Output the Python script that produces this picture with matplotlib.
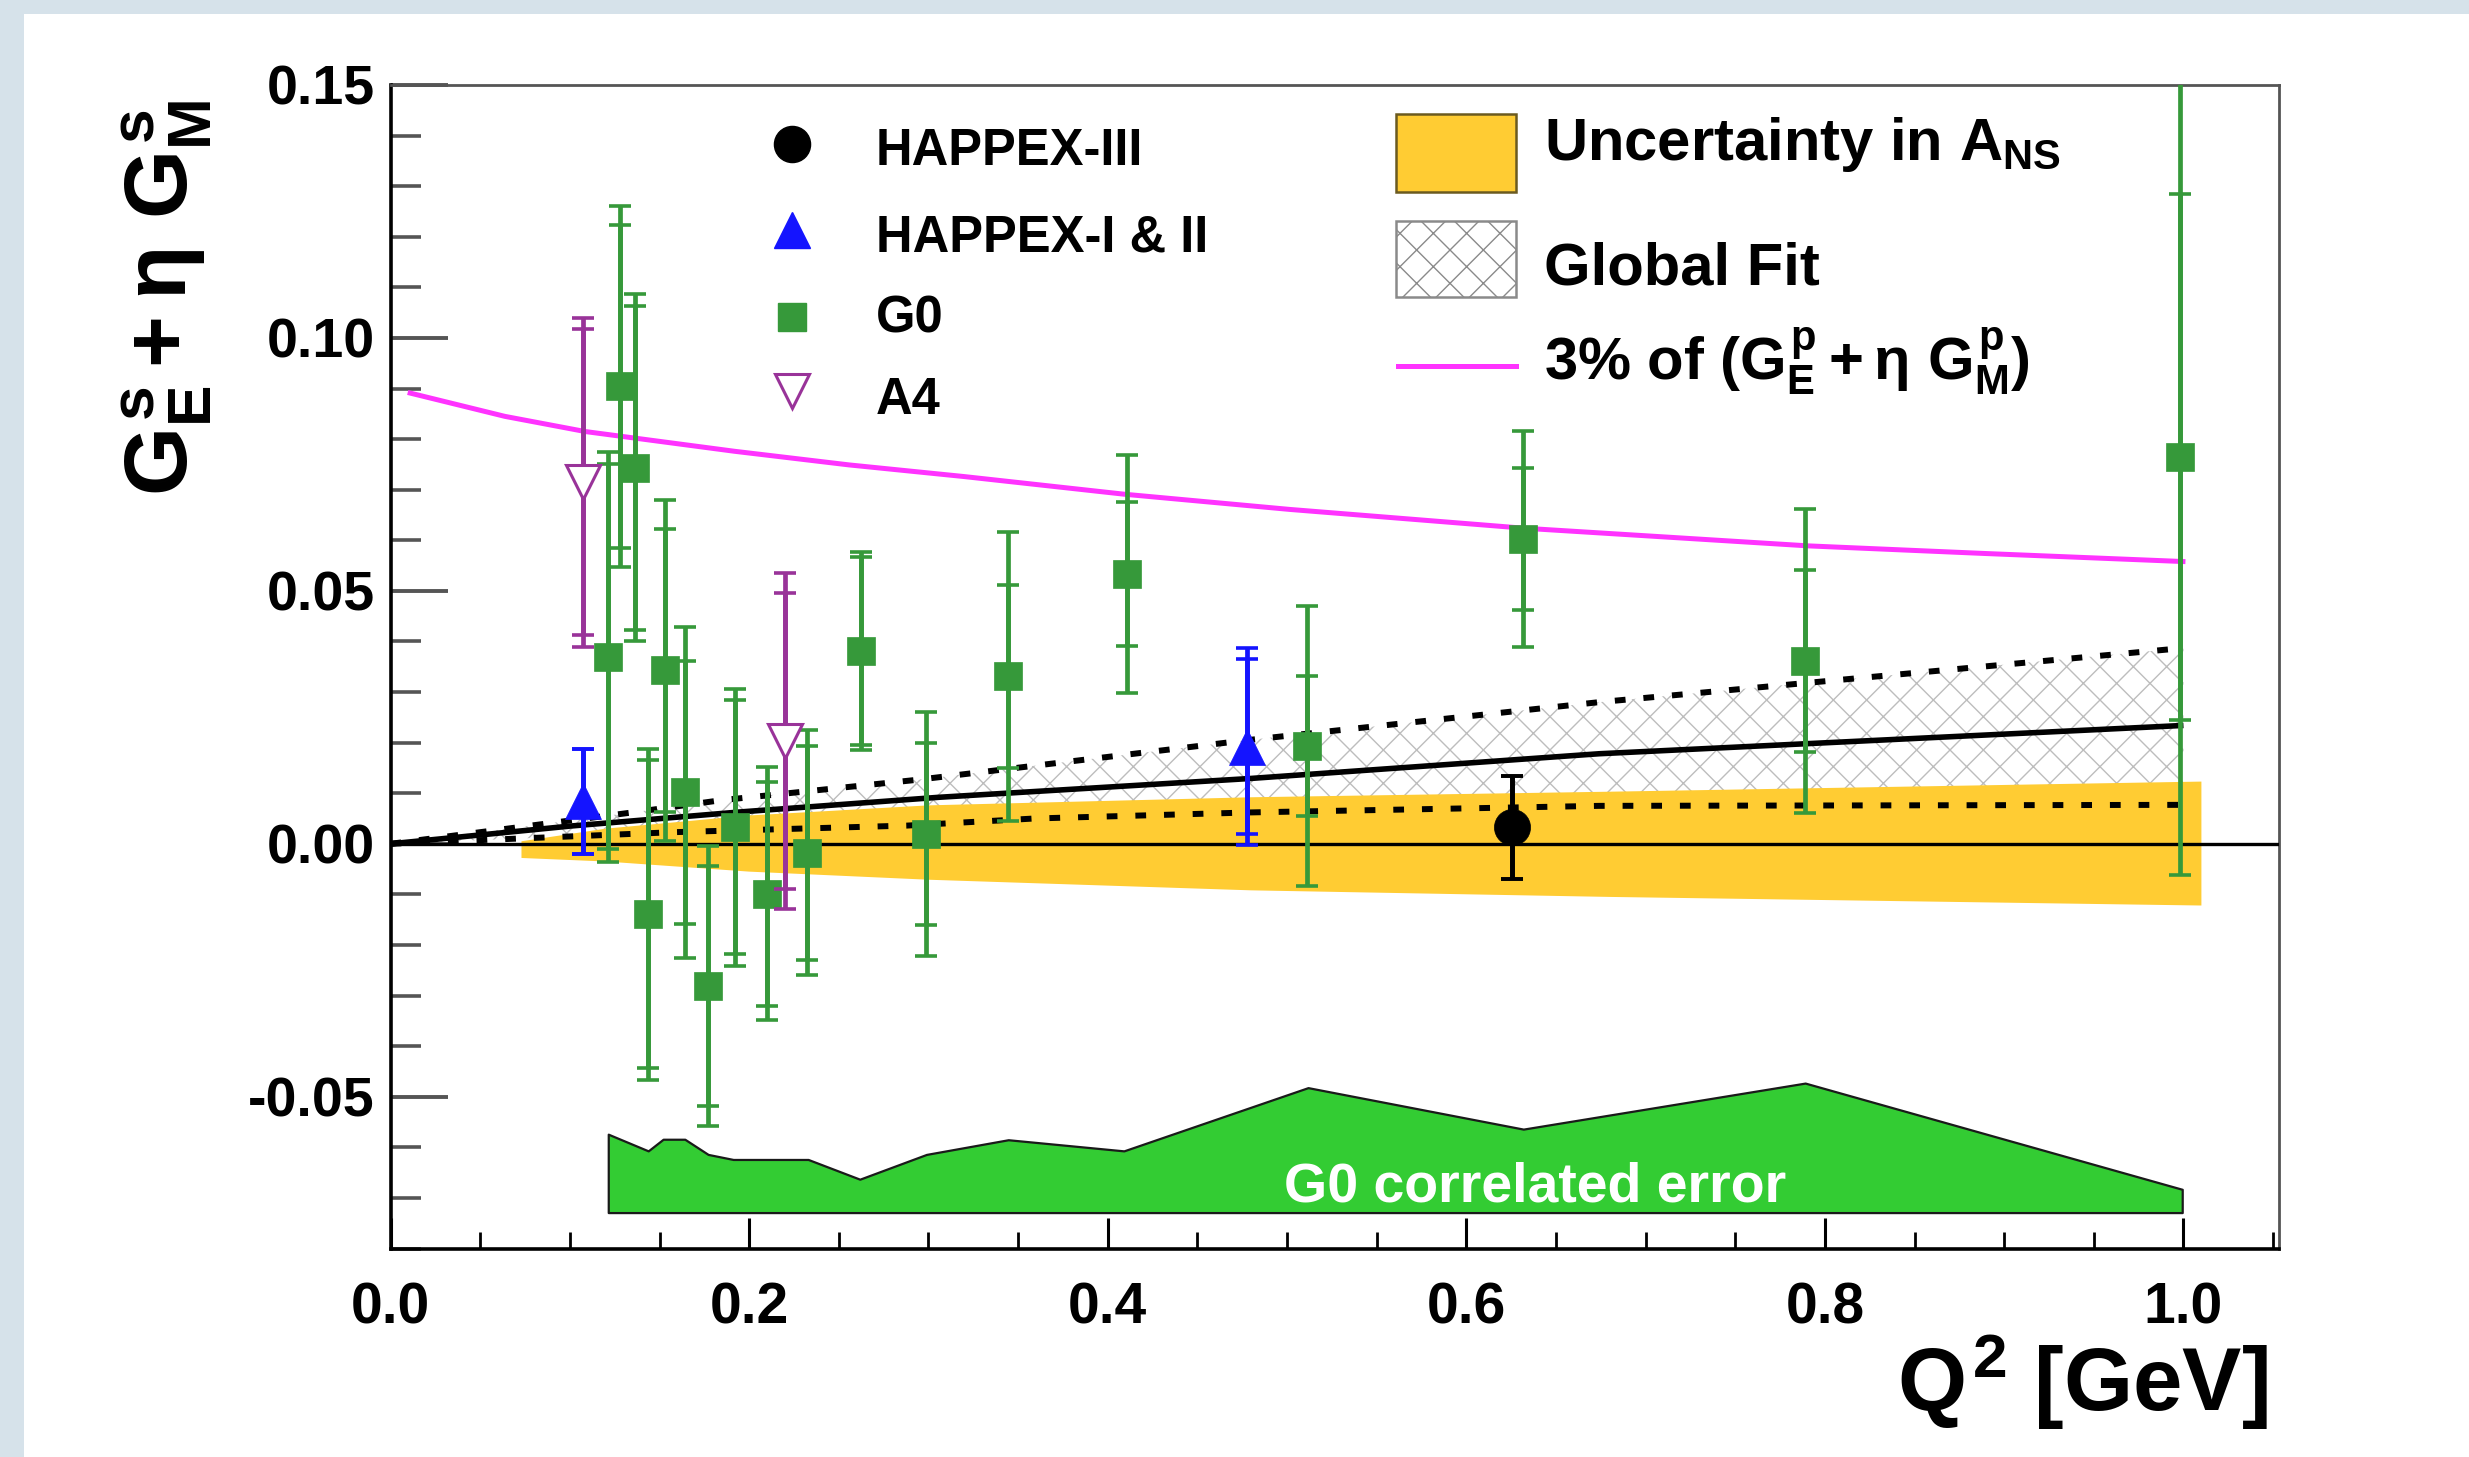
import numpy as np
import matplotlib
matplotlib.use('Agg')
import matplotlib.pyplot as plt
from matplotlib.patches import Rectangle
from matplotlib.lines import Line2D

plt.rcParams['font.family'] = ['Liberation Sans', 'DejaVu Sans']
plt.rcParams['font.weight'] = 'bold'
plt.rcParams['mathtext.fontset'] = 'custom'
plt.rcParams['mathtext.rm'] = 'Liberation Sans:bold'
plt.rcParams['mathtext.it'] = 'Liberation Sans:bold'
plt.rcParams['mathtext.bf'] = 'Liberation Sans:bold'
plt.rcParams['mathtext.sf'] = 'Liberation Sans'
plt.rcParams['hatch.linewidth'] = 1.0

# ---------------- data ----------------
happex3_q2 = [0.6255]
happex3_val = [0.0033]
happex3_stat = [0.0102]
happex3_tot = [0.0102]

happex12_q2 = [0.1071, 0.4777]
happex12_val = [0.0084, 0.0192]
happex12_stat = [0.0104, 0.0173]
happex12_tot = [0.0104, 0.0195]

g0_q2 = [0.1213, 0.128, 0.1363, 0.1437, 0.1533, 0.1641, 0.1771, 0.192, 0.2097,
         0.232, 0.2624, 0.2989, 0.3442, 0.4105, 0.5113, 0.6318, 0.789, 0.998]
g0_val = [0.037, 0.0904, 0.0743, -0.0139, 0.0343, 0.0102, -0.0281, 0.0033, -0.0099,
          -0.0018, 0.0381, 0.002, 0.0331, 0.0533, 0.0193, 0.0603, 0.0361, 0.0764]
g0_stat = [0.038, 0.032, 0.032, 0.0304, 0.028, 0.026, 0.0237, 0.0251, 0.0221,
           0.0212, 0.0185, 0.018, 0.0181, 0.0142, 0.0139, 0.014, 0.018, 0.052]
g0_tot = [0.0405, 0.0357, 0.0343, 0.0327, 0.0337, 0.0327, 0.0277, 0.0274, 0.025,
          0.0242, 0.0195, 0.0241, 0.0285, 0.0235, 0.0277, 0.0213, 0.030, 0.0826]

a4_q2 = [0.1075, 0.2199]
a4_val = [0.0715, 0.0203]
a4_stat = [0.0303, 0.0292]
a4_tot = [0.0325, 0.0332]

# 3% of (GEp + eta GMp)
pct3_q2 = [0.0109, 0.0637, 0.1085, 0.1917, 0.2557, 0.3198, 0.4094, 0.5015,
           0.6316, 0.7904, 0.8885, 0.9997]
pct3_val = [0.0891, 0.0845, 0.0815, 0.0776, 0.0749, 0.0726, 0.0691, 0.0661,
            0.0624, 0.0589, 0.0574, 0.0558]

# global fit: central and bounds
fit_q2 = [0.0, 0.1, 0.195, 0.306, 0.479, 0.674, 1.0]
fit_val = [0.0, 0.0035, 0.0063, 0.0092, 0.0129, 0.0178, 0.0234]
fit_up_q2 = [0.0, 0.137, 0.184, 0.295, 0.478, 0.674, 1.0]
fit_up_val = [0.0, 0.0063, 0.0086, 0.0127, 0.0205, 0.028, 0.0387]
fit_lo_q2 = [0.0, 0.158, 0.288, 0.359, 0.479, 0.674, 1.0]
fit_lo_val = [0.0, 0.0023, 0.0036, 0.005, 0.0062, 0.0075, 0.0077]

# uncertainty in A_NS band
ans_q2 = [0.073, 0.12, 0.2, 0.3, 0.48, 0.68, 1.01]
ans_hi = [0.0005, 0.003, 0.0056, 0.0076, 0.0092, 0.0103, 0.0123]
ans_lo = [-0.0028, -0.0035, -0.0055, -0.0071, -0.0092, -0.0105, -0.0122]

# G0 correlated error band
corr_q2 = [0.1214, 0.1437, 0.152, 0.1641, 0.1771, 0.1911, 0.2329, 0.2617, 0.2989,
           0.3445, 0.409, 0.5117, 0.6318, 0.789, 0.9993]
corr_top = [-0.0574, -0.0607, -0.0584, -0.0584, -0.0614, -0.0624, -0.0624, -0.0663, -0.0614,
            -0.0585, -0.0607, -0.0482, -0.0564, -0.0473, -0.0683]
corr_base = -0.0729

xtick_vals = [0.0, 0.2, 0.4, 0.6, 0.8, 1.0]
xtick_labels = ['0.0', '0.2', '0.4', '0.6', '0.8', '1.0']
ytick_vals = [-0.05, 0.0, 0.05, 0.10, 0.15]
ytick_labels = ['-0.05', '0.00', '0.05', '0.10', '0.15']

# ---------------- colours ----------------
C_G0 = '#36993a'
C_CORR = '#33cc33'
C_YEL = '#ffcc33'
C_BLUE = '#1414ff'
C_A4 = '#993399'
C_MAG = '#ff33ff'

W, H = 2469, 1457
fig = plt.figure(figsize=(W / 100, H / 100), dpi=100)
fig.patch.set_facecolor('#d6e2ea')
fig.add_artist(Rectangle((24 / W, 0), 1, 1 - 14 / H, transform=fig.transFigure,
                         facecolor='white', edgecolor='none', zorder=-10))

ax = fig.add_axes([390.6 / W, 1 - 1248.5 / H, 1887.9 / W, 1163.5 / H])
ax.set_xlim(0, 1.053)
ax.set_ylim(-0.08, 0.15)

# global fit hatched band
ax.fill_between(fit_up_q2, np.interp(fit_up_q2, fit_lo_q2, fit_lo_val), fit_up_val,
                facecolor='none', edgecolor='#bdbdbd', hatch='x', linewidth=0, zorder=1)
# A_NS band
ax.fill_between(ans_q2, ans_lo, ans_hi, facecolor=C_YEL, edgecolor='none', zorder=2)

# zero line
ax.axhline(0.0, color='black', lw=2.4, zorder=3)
# global fit lines
ax.plot(fit_q2, fit_val, color='black', lw=4.0, zorder=3, solid_capstyle='butt')
ax.plot(fit_up_q2, fit_up_val, color='black', lw=4.3, ls=(0, (1.8, 3.0)), zorder=3)
ax.plot(fit_lo_q2, fit_lo_val, color='black', lw=4.3, ls=(0, (1.8, 3.0)), zorder=3)

# 3% curve
ax.plot(pct3_q2, pct3_val, color=C_MAG, lw=3.6, zorder=3)

# G0 correlated error
ax.fill_between(corr_q2, corr_base, corr_top, facecolor=C_CORR, edgecolor='#1a1a1a',
                linewidth=1.6, zorder=2)
ax.text(0.6384, -0.0707, 'G0 correlated error', color='white', fontsize=40,
        fontweight='bold', ha='center', va='baseline', zorder=4)


def draw_points(q2, val, stat, tot, color, marker, ms, mfc, mew, z):
    ax.errorbar(q2, val, yerr=tot, fmt='none', ecolor=color, elinewidth=3.4,
                capsize=8, capthick=2.6, zorder=z)
    ax.errorbar(q2, val, yerr=stat, fmt='none', ecolor=color, elinewidth=3.4,
                capsize=8, capthick=2.6, zorder=z)
    ax.plot(q2, val, linestyle='none', marker=marker, ms=ms, mfc=mfc, mec=color,
            mew=mew, zorder=z + 0.5)


draw_points(g0_q2, g0_val, g0_stat, g0_tot, C_G0, 's', 20, C_G0, 0.5, 5)
draw_points(a4_q2, a4_val, a4_stat, a4_tot, C_A4, 'v', 25, 'white', 2.2, 6)
draw_points(happex12_q2, happex12_val, happex12_stat, happex12_tot, C_BLUE, '^', 26, C_BLUE, 0.5, 6)
draw_points(happex3_q2, happex3_val, happex3_stat, happex3_tot, 'black', 'o', 26, 'black', 0.5, 6)

# ---------------- axes styling ----------------
ax.set_xticks(xtick_vals)
ax.set_xticklabels(xtick_labels)
ax.set_xticks(np.arange(0, 1.051, 0.05), minor=True)
ax.set_yticks(ytick_vals)
ax.set_yticklabels(ytick_labels)
ax.set_yticks(np.arange(-0.08, 0.1501, 0.01), minor=True)

ax.tick_params(axis='both', which='both', direction='in', top=False, right=False)
ax.tick_params(axis='x', which='major', length=22, width=2.2, labelsize=41, pad=23.5, color='black')
ax.tick_params(axis='x', which='minor', length=12, width=2.0, color='black')
ax.tick_params(axis='y', which='major', length=41, width=2.8, labelsize=40, pad=11.4, color='#555555')
ax.tick_params(axis='y', which='minor', length=21.5, width=2.6, color='#555555')
for lab in ax.get_xticklabels() + ax.get_yticklabels():
    lab.set_fontweight('bold')

for side in ['left', 'bottom']:
    ax.spines[side].set_linewidth(2.6)
    ax.spines[side].set_color('black')
for side in ['top', 'right']:
    ax.spines[side].set_linewidth(2.0)
    ax.spines[side].set_color('#555555')

# axis titles
ax.text(0.9944, -0.1395, r'$Q^{2}$ [GeV]', transform=ax.transAxes, fontsize=64,
        fontweight='bold', ha='right', va='baseline')
ax.text(-0.119, 0.817, r'$G^{s}_{E} + \mathsf{\eta}\ G^{s}_{M}$', transform=ax.transAxes,
        fontsize=64, rotation=90, ha='center', va='center')

# ---------------- legends ----------------
T = ax.transAxes
mx = 0.2126
ax.plot([mx], [0.9497], transform=T, marker='o', ms=26, mfc='black', mec='black', ls='none', clip_on=False)
ax.plot([mx], [0.8757], transform=T, marker='^', ms=26, mfc=C_BLUE, mec=C_BLUE, ls='none', clip_on=False)
ax.plot([mx], [0.8006], transform=T, marker='s', ms=20, mfc=C_G0, mec=C_G0, ls='none', clip_on=False)
ax.plot([mx], [0.7368], transform=T, marker='v', ms=25, mfc='white', mec=C_A4, mew=2.2, ls='none', clip_on=False)
left_labels = ['HAPPEX-III', 'HAPPEX-I & II', 'G0', 'A4']
left_base = [0.9315, 0.857, 0.787, 0.7174]
for lab, yb in zip(left_labels, left_base):
    ax.text(0.2569, yb, lab, transform=T, fontsize=36.5, fontweight='bold', ha='left', va='baseline')

ax.add_patch(Rectangle((0.5327, 0.9078), 0.0634, 0.0675, transform=T, facecolor=C_YEL,
                       edgecolor='#6b5a20', linewidth=1.8, zorder=6))
ax.add_patch(Rectangle((0.5327, 0.8174), 0.0634, 0.0657, transform=T, facecolor='white',
                       edgecolor='#8a8a8a', hatch='x', linewidth=1.8, zorder=6))
ax.add_line(Line2D([0.5334, 0.5961], [0.7586, 0.7586], transform=T, color=C_MAG, lw=3.6, zorder=6))
ax.text(0.6109, 0.9354, r'Uncertainty in $A_{NS}$', transform=T, fontsize=43,
        fontweight='bold', ha='left', va='baseline')
ax.text(0.6109, 0.8284, 'Global Fit', transform=T, fontsize=43,
        fontweight='bold', ha='left', va='baseline')
ax.text(0.6109, 0.7462, r'3% of $(G^{p}_{E} + \mathsf{\eta}\ G^{p}_{M})$', transform=T, fontsize=43,
        fontweight='bold', ha='left', va='baseline')

fig.savefig('out.png', dpi=100, facecolor=fig.get_facecolor())
